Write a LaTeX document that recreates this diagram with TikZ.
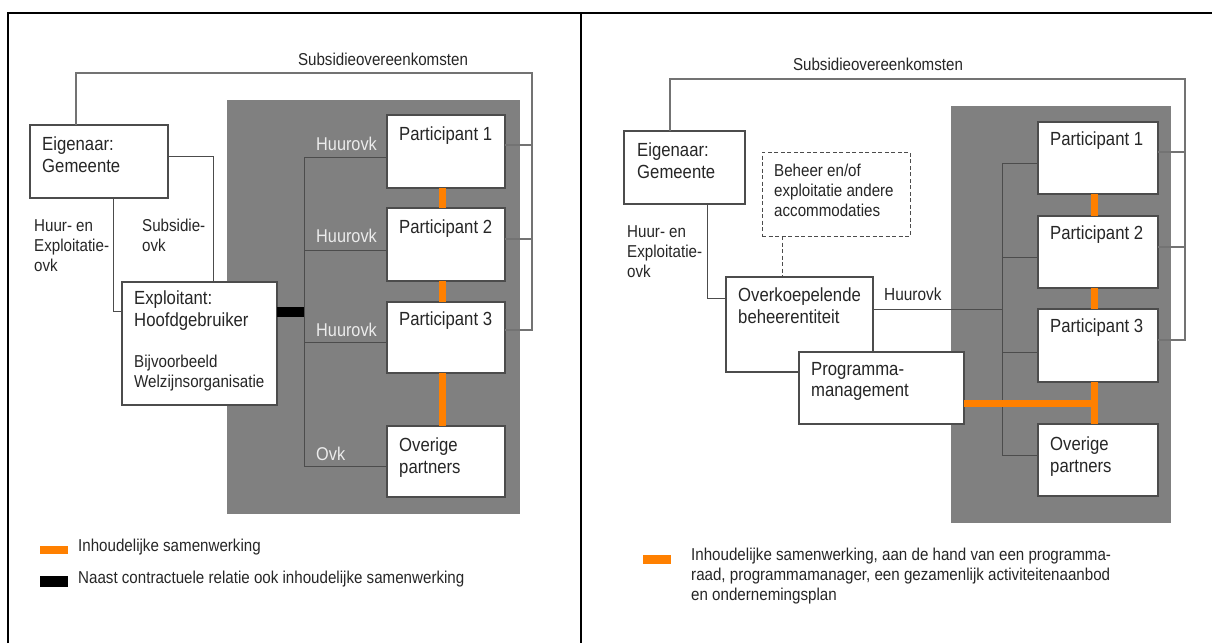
\documentclass[tikz,border=0pt]{standalone}
\usepackage{fontspec}
\setmainfont{Liberation Sans}[FakeStretch=0.88]
\definecolor{orangebar}{RGB}{255,128,0}
\definecolor{panelgray}{RGB}{128,128,128}
\newcommand\boxfont{\fontsize{19}{21.5}\selectfont}
\newcommand\notefont{\fontsize{17.2}{20}\selectfont}
\newcommand\lblfont{\fontsize{18.5}{20}\selectfont}

\begin{document}
\begin{tikzpicture}[x=1pt,y=-1pt,
  box/.style={draw=black!70, line width=1.2pt, fill=white, anchor=north west,
              inner sep=0pt, outer sep=0pt},
  dashbox/.style={box, dash pattern=on 4pt off 2.5pt, line width=1pt},
  txt/.style={anchor=north west, inner sep=0pt, align=left, text=black!85, font=\boxfont},
  note/.style={txt, font=\notefont},
  lbl/.style={txt, font=\lblfont, text=gray!15},
  conn/.style={draw=black!70, line width=1pt},
  subs/.style={draw=black!55, line width=1.2pt},
  dashconn/.style={draw=black!70, line width=1pt, dash pattern=on 4pt off 2.5pt},
  org/.style={draw=orangebar, line width=7pt},
  frame/.style={draw=black, line width=2pt}]

\useasboundingbox (0,0) rectangle (1212,643);

% outer frame and divider
\draw[frame] (8,643) -- (8,13) -- (1212,13);
\draw[frame] (581,13) -- (581,643);

% ================= left panel =================
\fill[panelgray] (227,100) rectangle (520,514);

\node[box, minimum width=138, minimum height=73] (EigL) at (30,125) {};
\node[box, minimum width=118, minimum height=73] (P1L) at (387,115) {};
\node[box, minimum width=118, minimum height=73] (P2L) at (387,208) {};
\node[box, minimum width=118, minimum height=71] (P3L) at (387,302) {};
\node[box, minimum width=118, minimum height=71] (OvL) at (387,426) {};

% subsidy agreements
\coordinate (subLr) at (532,73);
\draw[subs] ([xshift=46]EigL.north west) |- (subLr) |- ([yshift=-28]P3L.north east);
\draw[subs] ([yshift=-30]P1L.north east) -| (subLr);
\draw[subs] ([yshift=-31]P2L.north east) -| (subLr);

% rental agreements bus
\coordinate (busL) at (304,157);
\draw[conn] ([yshift=-42]P1L.north west) -| (busL);
\draw[conn] ([yshift=-42]P2L.north west) -| (busL);
\draw[conn] ([yshift=-40]P3L.north west) -| (busL);
\draw[conn] ([yshift=-40]OvL.north west) -| (busL);

\node[box, minimum width=155, minimum height=123] (ExpL) at (122,282) {};
\draw[conn] ([xshift=83]EigL.south west) |- ([yshift=-29]ExpL.north west);
\coordinate (expTop) at ([xshift=91]ExpL.north west);
\draw[conn] ([yshift=-31]EigL.north east) -| (expTop);

% contract plus cooperation
\coordinate (expR) at ([yshift=-30]ExpL.north east);
\draw[line width=10pt, black] (expR) -- (expR -| busL);

% cooperation links
\draw[org] ([xshift=-4]P1L.south) -- ([xshift=-4]P2L.north);
\draw[org] ([xshift=-4]P2L.south) -- ([xshift=-4]P3L.north);
\draw[org] ([xshift=-4]P3L.south) -- ([xshift=-4]OvL.north);

% texts
\node[note, anchor=north] (subTL) at (383,53) {Subsidieovereenkomsten};
\node[txt] (eigTL) at ([xshift=12,yshift=-12]EigL.north west) {Eigenaar:\\Gemeente};
\node[note] (huurTL) at (34,219) {Huur- en\\Exploitatie-\\ovk};
\node[note] (subsTL) at (142,219) {Subsidie-\\ovk};
\node[txt] (expTL) at ([xshift=12,yshift=-9]ExpL.north west) {Exploitant:\\Hoofdgebruiker};
\node[note] (bijTL) at (134,355) {Bijvoorbeeld\\Welzijnsorganisatie};
\node[txt] (p1TL) at ([xshift=12,yshift=-12]P1L.north west) {Participant 1};
\node[txt] (p2TL) at ([xshift=12,yshift=-12]P2L.north west) {Participant 2};
\node[txt] (p3TL) at ([xshift=12,yshift=-10]P3L.north west) {Participant 3};
\node[txt] (ovTL) at ([xshift=12,yshift=-12]OvL.north west) {Overige\\partners};
\node[lbl] (h1L) at (316,137) {Huurovk};
\node[lbl] (h2L) at (316,229) {Huurovk};
\node[lbl] (h3L) at (316,323) {Huurovk};
\node[lbl] (ovkL) at (316,447) {Ovk};

% legend
\fill[orangebar] (40,546) rectangle (68,554);
\fill[black] (40,576) rectangle (68,587);
\node[note] (leg1L) at (78,539) {Inhoudelijke samenwerking};
\node[note] (leg2L) at (78,571) {Naast contractuele relatie ook inhoudelijke samenwerking};

% ================= right panel =================
\fill[panelgray] (951,106) rectangle (1171,523);

\node[box, minimum width=121, minimum height=73] (EigR) at (624,131) {};
\node[dashbox, minimum width=148, minimum height=84] (BehR) at (762,152) {};
\node[box, minimum width=120, minimum height=72] (P1R) at (1038,122) {};
\node[box, minimum width=120, minimum height=72] (P2R) at (1038,216) {};
\node[box, minimum width=120, minimum height=73] (P3R) at (1038,309) {};
\node[box, minimum width=120, minimum height=72] (OvR) at (1038,424) {};

% subsidy agreements
\coordinate (subRr) at (1185,79);
\draw[subs] ([xshift=46]EigR.north west) |- (subRr) |- ([yshift=-31]P3R.north east);
\draw[subs] ([yshift=-30]P1R.north east) -| (subRr);
\draw[subs] ([yshift=-31]P2R.north east) -| (subRr);

% rental agreements bus
\coordinate (busR) at (1002,163);
\draw[conn] ([yshift=-41]P1R.north west) -| (busR);
\draw[conn] ([yshift=-41]P2R.north west) -| (busR);
\draw[conn] ([yshift=-43]P3R.north west) -| (busR);
\draw[conn] ([yshift=-31]OvR.north west) -| (busR);

\node[box, minimum width=147, minimum height=95] (OkR) at (726,277) {};
\draw[conn] ([xshift=83]EigR.south west) |- ([yshift=-21]OkR.north west);
\coordinate (behB) at ([xshift=20]BehR.south west);
\draw[dashconn] (behB) -- (behB |- OkR.north);
\draw[conn] ([yshift=-32]OkR.north east) -| (busR);

\node[box, minimum width=165, minimum height=72] (PrgR) at (799,352) {};

% cooperation links
\draw[org] ([xshift=-4]P1R.south) -- ([xshift=-4]P2R.north);
\draw[org] ([xshift=-4]P2R.south) -- ([xshift=-4]P3R.north);
\draw[org] ([xshift=-4]P3R.south) -- ([xshift=-4]OvR.north);
\coordinate (ojR) at ([xshift=-4]P3R.south);
\coordinate (prgE) at ([yshift=-51]PrgR.north east);
\draw[org] (prgE) -- (prgE -| ojR);

% texts
\node[note, anchor=north] (subTR) at (878,58) {Subsidieovereenkomsten};
\node[txt] (eigTR) at ([xshift=13,yshift=-12]EigR.north west) {Eigenaar:\\Gemeente};
\node[note] (behTR) at (774,164) {Beheer en/of\\exploitatie andere\\accommodaties};
\node[note] (huurTR) at (627,225) {Huur- en\\Exploitatie-\\ovk};
\node[note, font=\fontsize{17.5}{20}\selectfont] (hR) at (884,288) {Huurovk};
\node[txt] (okTR) at ([xshift=12,yshift=-11]OkR.north west) {Overkoepelende\\beheerentiteit};
\node[txt] (prgTR) at ([xshift=12,yshift=-10]PrgR.north west) {Programma-\\management};
\node[txt] (p1TR) at ([xshift=12,yshift=-10]P1R.north west) {Participant 1};
\node[txt] (p2TR) at ([xshift=12,yshift=-10]P2R.north west) {Participant 2};
\node[txt] (p3TR) at ([xshift=12,yshift=-10]P3R.north west) {Participant 3};
\node[txt] (ovTR) at ([xshift=12,yshift=-13]OvR.north west) {Overige\\partners};

% legend
\fill[orangebar] (643,555) rectangle (671,564);
\node[note] (legR) at (691,548) {Inhoudelijke samenwerking, aan de hand van een programma-\\raad, programmamanager, een gezamenlijk activiteitenaanbod\\en ondernemingsplan};
\end{tikzpicture}
\end{document}
